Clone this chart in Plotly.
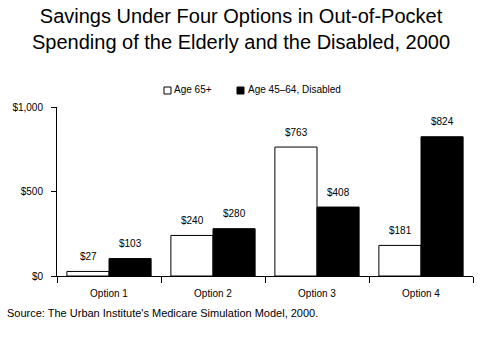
import plotly.graph_objects as go

categories = ["Option 1", "Option 2", "Option 3", "Option 4"]
age65 = [27, 240, 763, 181]
age45_64 = [103, 280, 408, 824]
series_names = ["Age 65+", "Age 45\u201364, Disabled"]
ytick_vals = [0, 500, 1000]
ytick_text = ["$0", "$500", "$1,000"]

font = "Liberation Sans, Arial, sans-serif"

# plot area in pixels
L, R, T, B = 57, 473, 107, 276
W, H = R - L, B - T
px = lambda x: (x - L) / W
py = lambda y: (B - y) / H

fig = go.Figure()
fig.add_trace(go.Bar(
    x=categories, y=age65, name=series_names[0],
    marker=dict(color="white", line=dict(color="black", width=1)),
))
fig.add_trace(go.Bar(
    x=categories, y=age45_64, name=series_names[1],
    marker=dict(color="black", line=dict(color="black", width=1)),
))

annotations = []
for vals, shift in ((age65, -21), (age45_64, 21)):
    for c, v in zip(categories, vals):
        annotations.append(dict(
            x=c, y=v, xref="x", yref="y", text=f"${v:,}", showarrow=False,
            xshift=shift, yshift=15, xanchor="center", yanchor="middle",
            font=dict(size=10, family=font, color="black")))

annotations += [
    dict(text="Savings Under Four Options in Out-of-Pocket<br>Spending of the Elderly and the Disabled, 2000",
         xref="paper", yref="paper", x=px(241), y=py(29),
         xanchor="center", yanchor="middle", showarrow=False,
         font=dict(size=20, family=font)),
    dict(text="Source: The Urban Institute's Medicare Simulation Model, 2000.",
         xref="paper", yref="paper", x=px(5), y=py(313),
         xanchor="left", yanchor="middle", showarrow=False,
         font=dict(size=11, family=font)),
    dict(text=series_names[0], xref="paper", yref="paper", x=px(172), y=py(90),
         xanchor="left", yanchor="middle", showarrow=False,
         font=dict(size=10, family=font)),
    dict(text=series_names[1], xref="paper", yref="paper", x=px(246), y=py(90),
         xanchor="left", yanchor="middle", showarrow=False,
         font=dict(size=10, family=font)),
]

shapes = [
    dict(type="rect", xref="paper", yref="paper", x0=px(164), x1=px(171),
         y0=py(94), y1=py(87), line=dict(color="black", width=1), fillcolor="white"),
    dict(type="rect", xref="paper", yref="paper", x0=px(237), x1=px(244),
         y0=py(94), y1=py(87), line=dict(color="black", width=1), fillcolor="black"),
]

fig.update_layout(
    width=480, height=351,
    margin=dict(l=L, r=480 - R, t=T, b=351 - B),
    paper_bgcolor="white", plot_bgcolor="white",
    barmode="group", bargap=0.19, bargroupgap=0,
    font=dict(family=font, color="black", size=10),
    showlegend=False,
    xaxis=dict(showline=True, linecolor="black", linewidth=1, ticks="outside",
               tickson="boundaries", ticklen=6, tickcolor="black",
               ticklabelstandoff=8,
               tickfont=dict(size=10), showgrid=False),
    yaxis=dict(range=[0, 1000], showline=True, linecolor="black", linewidth=1,
               ticks="outside", ticklen=5, tickcolor="black",
               ticklabelstandoff=6,
               tickvals=ytick_vals, ticktext=ytick_text, showgrid=False,
               zeroline=False, tickfont=dict(size=10)),
    annotations=annotations,
    shapes=shapes,
)

fig.write_html("out.html")
